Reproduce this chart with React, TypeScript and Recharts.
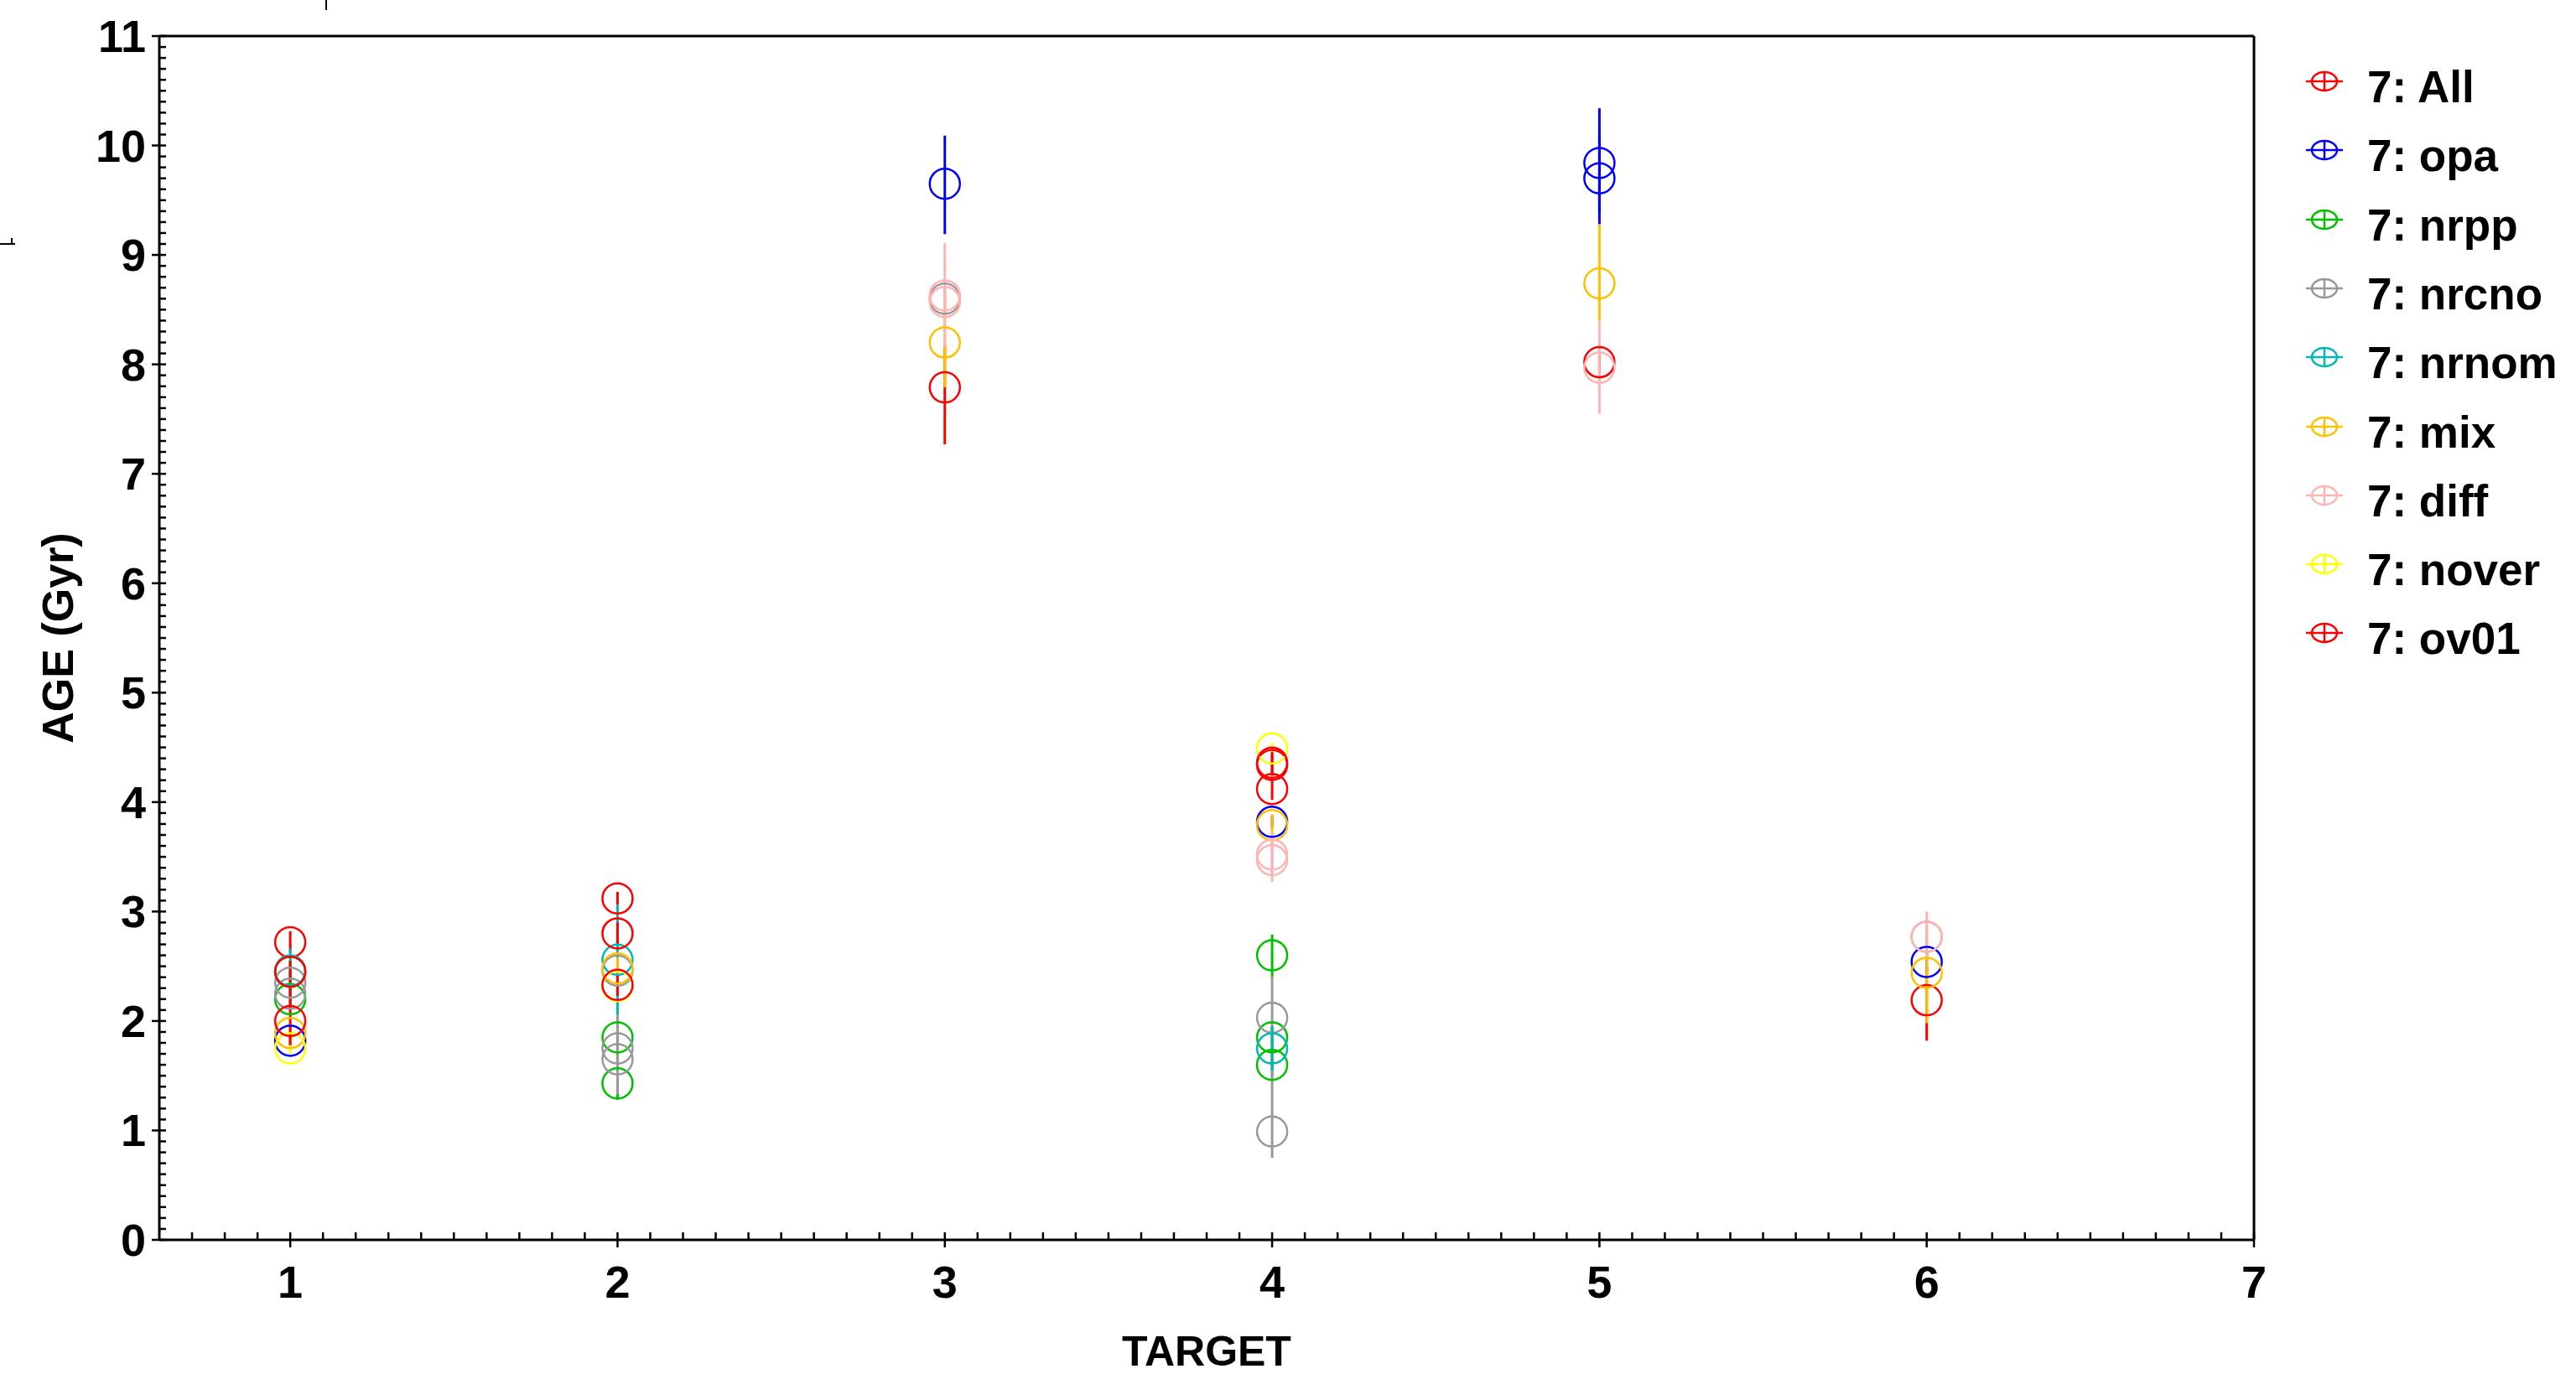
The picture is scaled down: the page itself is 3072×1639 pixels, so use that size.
import React from "react";
import { ScatterChart, Scatter, XAxis, YAxis, ErrorBar, ReferenceLine, Label } from "recharts";

// [target, age, err minus, err plus]
type Pt = [number, number, number, number];

const xTickLabels = [1, 2, 3, 4, 5, 6, 7];
const yTickLabels = [0, 1, 2, 3, 4, 5, 6, 7, 8, 9, 10, 11];

const seriesNames = ["7: All", "7: opa", "7: nrpp", "7: nrcno", "7: nrnom", "7: mix", "7: diff", "7: nover", "7: ov01"];
const seriesColors = ["#ff0000", "#0000ff", "#00c000", "#999999", "#00b8b8", "#ffc000", "#ffb4b4", "#ffff00", "#ff0000"];

const allPts: Pt[] = [
  [1, 2.72, 0.1, 0.1],
  [2, 3.12, 0.06, 0.06],
  [3, 7.79, 0.52, 0.4],
  [4, 4.34, 0.1, 0.1],
  [5, 8.02, 0.1, 0.1],
  [6, 2.19, 0.37, 0.3],
];
const opaPts: Pt[] = [
  [1, 1.82, 0.05, 0.05],
  [3, 9.65, 0.46, 0.44],
  [4, 3.82, 0.05, 0.05],
  [5, 9.84, 0.45, 0.5],
  [5, 9.7, 0.42, 0.4],
  [6, 2.54, 0.1, 0.1],
];
const nrppPts: Pt[] = [
  [1, 2.45, 0.1, 0.1],
  [1, 2.2, 0.1, 0.1],
  [2, 1.85, 0.2, 0.2],
  [2, 1.43, 0.15, 0.15],
  [4, 2.6, 0.2, 0.19],
  [4, 1.85, 0.1, 0.1],
  [4, 1.6, 0.1, 0.1],
];
const nrcnoPts: Pt[] = [
  [1, 2.35, 0.1, 0.1],
  [1, 2.25, 0.1, 0.1],
  [2, 2.46, 0.05, 0.05],
  [2, 1.75, 0.2, 0.31],
  [2, 1.65, 0.32, 0.2],
  [3, 8.6, 0.1, 0.1],
  [4, 2.03, 0.55, 0.38],
  [4, 0.99, 0.24, 0.5],
  [6, 2.77, 0.1, 0.1],
];
const nrnomPts: Pt[] = [
  [1, 2.46, 0.25, 0.2],
  [2, 2.56, 0.5, 0.5],
  [4, 1.75, 0.2, 0.2],
];
const mixPts: Pt[] = [
  [1, 1.89, 0.1, 0.1],
  [2, 2.48, 0.1, 0.1],
  [3, 8.2, 0.41, 0.45],
  [4, 3.79, 0.1, 0.1],
  [5, 8.74, 0.34, 0.54],
  [6, 2.44, 0.46, 0.26],
];
const diffPts: Pt[] = [
  [3, 8.63, 0.47, 0.48],
  [3, 8.57, 0.1, 0.1],
  [4, 3.52, 0.2, 0.2],
  [4, 3.47, 0.2, 0.2],
  [5, 7.97, 0.42, 0.43],
  [6, 2.77, 0.2, 0.23],
];
const noverPts: Pt[] = [
  [1, 1.75, 0.05, 0.1],
  [2, 2.32, 0.05, 0.05],
  [4, 4.49, 0.05, 0.05],
];
const ov01Pts: Pt[] = [
  [1, 2.45, 0.1, 0.1],
  [1, 2.0, 0.22, 0.3],
  [2, 2.8, 0.1, 0.1],
  [2, 2.33, 0.1, 0.1],
  [4, 4.36, 0.1, 0.1],
  [4, 4.12, 0.1, 0.1],
];

const seriesPts = [allPts, opaPts, nrppPts, nrcnoPts, nrnomPts, mixPts, diffPts, noverPts, ov01Pts];

const toRows = (pts: Pt[]) => pts.map(([x, y, lo, hi]) => ({ x, y, err: [lo, hi] }));

// minor ticks every 0.1
const xMinor = Array.from({ length: 64 }, (_, i) => Math.round((0.7 + i * 0.1) * 10) / 10);
const yMinor = Array.from({ length: 111 }, (_, i) => Math.round(i) / 10);

const FONT = "'Liberation Sans', Arial, sans-serif";

const isMajor = (v: number) => Math.abs(v - Math.round(v)) < 1e-6;

// eslint-disable-next-line @typescript-eslint/no-explicit-any
function XTick({ x, y, payload }: any) {
  const v = payload.value;
  const major = isMajor(v) && xTickLabels.includes(Math.round(v));
  return (
    <g>
      <line x1={x} x2={x} y1={y - 9} y2={major ? y + 9 : y} stroke="#000" strokeWidth={2.5} />
      {major && (
        <text x={x} y={y + 50} textAnchor="middle" dominantBaseline="central" fontSize={54} fontWeight="bold" fontFamily={FONT} fill="#000">
          {Math.round(v)}
        </text>
      )}
    </g>
  );
}

// eslint-disable-next-line @typescript-eslint/no-explicit-any
function YTick({ x, y, payload }: any) {
  const v = payload.value;
  const major = isMajor(v) && yTickLabels.includes(Math.round(v));
  return (
    <g>
      <line x1={major ? x - 9 : x} x2={x + 8} y1={y} y2={y} stroke="#000" strokeWidth={2.5} />
      {major && (
        <text x={x - 16} y={y} textAnchor="end" dominantBaseline="central" fontSize={54} fontWeight="bold" fontFamily={FONT} fill="#000">
          {Math.round(v)}
        </text>
      )}
    </g>
  );
}

const ring = (color: string) =>
  // eslint-disable-next-line @typescript-eslint/no-explicit-any
  (p: any) => <circle cx={p.cx} cy={p.cy} r={18} fill="none" stroke={color} strokeWidth={2.5} />;

function LegendIcon({ color }: { color: string }) {
  return (
    <svg width={50} height={30} style={{ display: "block" }}>
      <line x1={3} x2={47} y1={15} y2={15} stroke={color} strokeWidth={2.5} />
      <line x1={25} x2={25} y1={4} y2={26} stroke={color} strokeWidth={2.5} />
      <ellipse cx={25} cy={15} rx={15} ry={11} fill="none" stroke={color} strokeWidth={2.5} />
    </svg>
  );
}

export default function App() {
  return (
    <div style={{ position: "absolute", left: 0, top: 0, width: 3072, height: 1639, background: "#fff", fontFamily: FONT }}>
      <ScatterChart width={3072} height={1639} margin={{ top: 43, right: 384, bottom: 0, left: 0 }}>
        <XAxis
          type="number"
          dataKey="x"
          domain={[0.6, 7]}
          ticks={xMinor}
          interval={0}
          tickSize={0}
          tickMargin={0}
          tick={<XTick />}
          height={160}
          axisLine={{ stroke: "#000", strokeWidth: 3 }}
          allowDataOverflow
        >
          <Label
            content={() => (
              <text x={1439} y={1612} textAnchor="middle" dominantBaseline="central" fontSize={50} fontWeight="bold" fontFamily={FONT} fill="#000">
                TARGET
              </text>
            )}
          />
        </XAxis>
        <YAxis
          type="number"
          dataKey="y"
          domain={[0, 11]}
          ticks={yMinor}
          interval={0}
          tickSize={0}
          tickMargin={0}
          tick={<YTick />}
          width={190}
          axisLine={{ stroke: "#000", strokeWidth: 3 }}
          allowDataOverflow
        >
          <Label
            content={() => (
              <text x={69} y={761} transform="rotate(-90 69 761)" textAnchor="middle" dominantBaseline="central" fontSize={52} fontWeight="bold" fontFamily={FONT} fill="#000">
                AGE (Gyr)
              </text>
            )}
          />
        </YAxis>
        <ReferenceLine y={11} stroke="#000" strokeWidth={3} />
        <ReferenceLine x={7} stroke="#000" strokeWidth={3} />
        {seriesPts.map((pts, i) => (
          <Scatter
            key={seriesNames[i]}
            name={seriesNames[i]}
            data={toRows(pts)}
            shape={ring(seriesColors[i])}
            isAnimationActive={false}
          >
            <ErrorBar dataKey="err" direction="y" width={0} stroke={seriesColors[i]} strokeWidth={3} isAnimationActive={false} />
          </Scatter>
        ))}
      </ScatterChart>

      <div style={{ position: "absolute", left: 2747, top: 0 }}>
        {seriesNames.map((n, i) => (
          <div
            key={n}
            style={{ position: "absolute", top: 104 + i * 82.3 - 30, left: 0, display: "flex", alignItems: "center", whiteSpace: "nowrap" }}
          >
            <div style={{ marginTop: -14 }}>
              <LegendIcon color={seriesColors[i]} />
            </div>
            <span style={{ marginLeft: 26, fontSize: 53, fontWeight: "bold", lineHeight: "60px", color: "#000" }}>{n}</span>
          </div>
        ))}
      </div>

      <svg width={40} height={320} style={{ position: "absolute", left: 0, top: 0 }}>
        <line x1={0} x2={18} y1={291} y2={291} stroke="#000" strokeWidth={2} />
        <line x1={14} x2={14} y1={284} y2={291} stroke="#000" strokeWidth={2} />
      </svg>
      <svg width={4} height={14} style={{ position: "absolute", left: 387, top: 0 }}>
        <line x1={2} x2={2} y1={0} y2={12} stroke="#000" strokeWidth={2} />
      </svg>
    </div>
  );
}
